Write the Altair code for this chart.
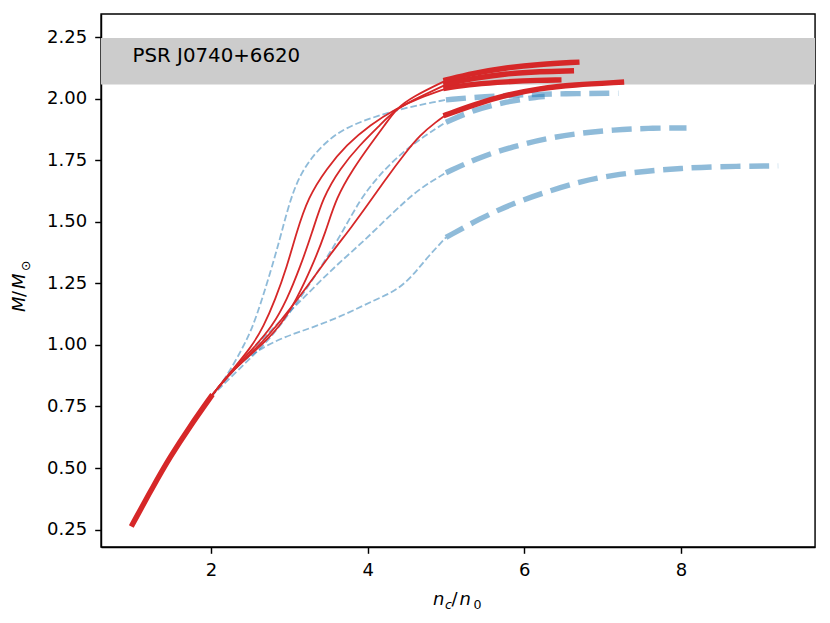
import altair as alt
import pandas as pd

# ---------------- data ----------------
# common low-density (thick red) segment
base_x = [1.0, 1.26, 1.48, 1.73, 2.0]
base_y = [0.272, 0.424, 0.546, 0.668, 0.79]

# red curves, intermediate (thin) part 2 < n < 5
ra_x = [2.0, 2.25, 2.52, 2.67, 2.82, 2.97, 3.09, 3.24, 3.48, 3.73, 4.03, 4.37, 4.67, 5.0]
ra_y = [0.79, 0.89, 0.993, 1.074, 1.183, 1.318, 1.454, 1.60, 1.718, 1.813, 1.894, 1.962, 2.005, 2.042]
rb_x = [2.0, 2.25, 2.56, 2.78, 2.97, 3.14, 3.29, 3.43, 3.65, 3.90, 4.16, 4.37, 4.71, 5.0]
rb_y = [0.79, 0.89, 0.993, 1.074, 1.183, 1.318, 1.454, 1.60, 1.718, 1.813, 1.894, 1.962, 2.015, 2.058]
rc_x = [2.0, 2.25, 2.60, 2.88, 3.09, 3.29, 3.46, 3.60, 3.82, 4.03, 4.22, 4.37, 4.58, 5.0]
rc_y = [0.79, 0.89, 0.985, 1.074, 1.183, 1.318, 1.454, 1.60, 1.718, 1.813, 1.894, 1.962, 2.01, 2.075]
rd_x = [2.0, 2.3, 2.65, 2.90, 3.20, 3.50, 3.80, 4.03, 4.24, 4.46, 4.67, 4.88, 5.0]
rd_y = [0.79, 0.905, 1.007, 1.102, 1.224, 1.359, 1.481, 1.583, 1.678, 1.772, 1.854, 1.908, 1.935]

# red curves, high-density (thick) part
ra_tx = [5.0, 5.35, 5.77, 6.20, 6.44]
ra_ty = [2.044, 2.060, 2.070, 2.076, 2.077]
rb_tx = [5.0, 5.35, 5.77, 6.20, 6.60]
rb_ty = [2.060, 2.084, 2.103, 2.111, 2.114]
rc_tx = [5.0, 5.35, 5.77, 6.20, 6.67]
rc_ty = [2.077, 2.104, 2.127, 2.141, 2.149]
rd_tx = [5.0, 5.35, 5.77, 6.20, 6.62, 7.24]
rd_ty = [1.935, 1.976, 2.016, 2.043, 2.057, 2.068]

# blue dashed curves, thin part
b1_x = [2.0, 2.2, 2.39, 2.52, 2.65, 2.78, 2.90, 3.05, 3.26, 3.60, 4.03, 4.45, 4.88, 5.0]
b1_y = [0.79, 0.87, 0.98, 1.061, 1.183, 1.318, 1.454, 1.637, 1.759, 1.867, 1.922, 1.962, 1.989, 1.996]
b2_x = [2.0, 2.48, 2.78, 3.03, 3.24, 3.46, 3.67, 3.90, 4.12, 4.41, 4.75, 5.0]
b2_y = [0.79, 0.939, 1.034, 1.142, 1.237, 1.345, 1.454, 1.589, 1.68, 1.775, 1.855, 1.905]
b3_x = [2.0, 2.56, 2.90, 3.24, 3.58, 3.92, 4.20, 4.45, 4.67, 5.0]
b3_y = [0.79, 0.993, 1.102, 1.210, 1.318, 1.413, 1.50, 1.575, 1.637, 1.70]
b4_x = [2.0, 2.31, 2.60, 2.94, 3.33, 3.75, 4.09, 4.39, 4.60, 4.77, 5.0]
b4_y = [0.79, 0.912, 0.980, 1.034, 1.074, 1.129, 1.183, 1.224, 1.291, 1.359, 1.437]

# blue dashed curves, thick part
b1_tx = [5.0, 5.5, 6.0, 6.5, 7.2]
b1_ty = [1.996, 2.010, 2.017, 2.021, 2.023]
b2_tx = [5.0, 5.35, 5.77, 6.2, 6.26]
b2_ty = [1.905, 1.955, 1.989, 2.009, 2.01]
b3_tx = [5.0, 5.44, 5.86, 6.29, 6.71, 7.14, 7.57, 8.07]
b3_ty = [1.70, 1.765, 1.806, 1.840, 1.861, 1.874, 1.881, 1.882]
b4_tx = [5.0, 5.44, 5.86, 6.29, 6.71, 7.14, 7.57, 8.0, 8.43, 9.24]
b4_ty = [1.437, 1.515, 1.576, 1.623, 1.664, 1.691, 1.707, 1.718, 1.725, 1.728]

band_lo = [2.058]
band_hi = [2.247]
psr_label = ["PSR J0740+6620"]
psr_x = [1.0]
psr_y = [2.148]

x_ticks = [2, 4, 6, 8]
y_ticks = [0.25, 0.5, 0.75, 1.0, 1.25, 1.5, 1.75, 2.0, 2.25]

# ---------------- build tables ----------------
def table(curves):
    rows = []
    for name, xs, ys in curves:
        for i, (a, b) in enumerate(zip(xs, ys)):
            rows.append({"curve": name, "x": a, "y": b, "ord": i})
    return pd.DataFrame(rows)

red_thick = table([("base", base_x, base_y), ("ra", ra_tx, ra_ty), ("rb", rb_tx, rb_ty),
                   ("rc", rc_tx, rc_ty), ("rd", rd_tx, rd_ty)])
red_thin = table([("ra", ra_x, ra_y), ("rb", rb_x, rb_y), ("rc", rc_x, rc_y), ("rd", rd_x, rd_y)])
blue_thin = table([("b1", b1_x, b1_y), ("b2", b2_x, b2_y), ("b3", b3_x, b3_y), ("b4", b4_x, b4_y)])
blue_thick = table([("b1", b1_tx, b1_ty), ("b2", b2_tx, b2_ty), ("b3", b3_tx, b3_ty), ("b4", b4_tx, b4_ty)])

W, H = 714, 533
FONT = "DejaVu Sans"
xs = alt.Scale(domain=[0.597, 9.71], nice=False, zero=False)
ys = alt.Scale(domain=[0.179, 2.345], nice=False, zero=False)
xa = alt.Axis(values=x_ticks, title=None, format="d")
ya = alt.Axis(values=y_ticks, title=None, format=".2f")

X = alt.X("x:Q", scale=xs, axis=xa)
Y = alt.Y("y:Q", scale=ys, axis=ya)

band = alt.Chart(pd.DataFrame({"y": band_lo, "y1": band_hi})).mark_rect(color="#cccccc").encode(
    y=Y, y2="y1:Q", x=alt.value(0), x2=alt.value("width"))

psr = alt.Chart(pd.DataFrame({"x": psr_x, "y": psr_y, "t": psr_label})).mark_text(
    align="left", baseline="alphabetic", font=FONT, fontSize=19.8, color="black").encode(
    x=X, y=Y, text="t:N")

def lines(df, color, width, dash=None, opacity=1.0, cap="butt"):
    kw = dict(color=color, strokeWidth=width, interpolate="basis", opacity=opacity, strokeCap=cap)
    if dash:
        kw["strokeDash"] = dash
    return alt.Chart(df).mark_line(**kw).encode(x=X, y=Y, detail="curve:N", order="ord:Q")

BLUE = "#1f77b4"
RED = "#d62728"
l_blue_thin = lines(blue_thin, BLUE, 1.8, dash=[6.7, 2.9], opacity=0.5)
l_blue_thick = lines(blue_thick, BLUE, 5.4, dash=[20, 8.7], opacity=0.5)
l_red_thin = lines(red_thin, RED, 1.8, cap="square")
l_red_thick = lines(red_thick, RED, 5.4, cap="square")

def label(text, x, y, size, angle=0, italic=True):
    kw = dict(align="left", baseline="alphabetic", font=FONT, fontSize=size, color="black")
    if italic:
        kw["fontStyle"] = "italic"
    if angle:
        kw["angle"] = angle
    return alt.Chart(pd.DataFrame({"t": [text]})).mark_text(**kw).encode(
        text="t:N", x=alt.value(x), y=alt.value(y))

# x title  n_c / n_0
xt = [
    label("n", 332, 591, 18),
    label("c", 344, 594.5, 12.6),
    label("/", 350.5, 591, 18, italic=False),
    label("n", 358.5, 591, 18),
    label("0", 372.5, 594.5, 12.6, italic=False),
]
# y title  M / M_sun (rotated)
yt = [
    label("M", -76, 298, 18, angle=270),
    label("/", -76, 283, 18, angle=270, italic=False),
    label("M", -76, 275, 18, angle=270),
    label("\u2299", -71.5, 257, 12.6, angle=270, italic=False),
]

chart = alt.layer(band, psr, l_blue_thin, l_blue_thick, l_red_thin, l_red_thick, *xt, *yt).properties(
    width=W, height=H,
    padding={"left": 93, "top": 6, "right": 7, "bottom": 68},
    autosize=alt.AutoSizeParams(type="none"),
).configure_view(stroke="black", strokeWidth=1.44).configure_axis(
    grid=False, domainColor="black", domainWidth=1.44, tickColor="black", tickWidth=1.44,
    tickSize=6.3, labelFont=FONT, labelFontSize=18, labelColor="black", labelPadding=8,
)

chart.save("out.html", embed_options={"renderer": "svg", "actions": False})
